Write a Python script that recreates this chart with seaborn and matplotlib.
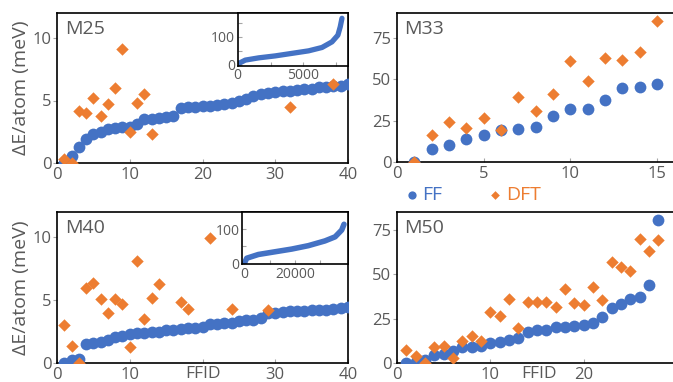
import numpy as np
import pandas as pd
import matplotlib
matplotlib.use("Agg")
import matplotlib.pyplot as plt
import seaborn as sns

# ---------------- data ----------------
m25_ffid = list(range(1, 41))
m25_ff = [0.0, 0.6, 1.3, 1.95, 2.3, 2.5, 2.7, 2.8, 2.85, 2.9,
          3.1, 3.5, 3.55, 3.6, 3.65, 3.8, 4.4, 4.5, 4.5, 4.55,
          4.6, 4.65, 4.7, 4.8, 5.0, 5.15, 5.35, 5.5, 5.6, 5.7,
          5.75, 5.8, 5.85, 5.9, 5.95, 6.05, 6.1, 6.15, 6.2, 6.3]
m25_dft_id = [1, 2, 3, 4, 5, 6, 7, 8, 9, 10, 11, 12, 13, 32, 38]
m25_dft = [0.3, 0.0, 4.2, 4.0, 5.2, 3.8, 4.7, 6.0, 9.1, 2.5, 4.8, 5.5, 2.3, 4.5, 6.3]

m33_ffid = list(range(1, 16))
m33_ff = [0.0, 8.0, 10.5, 13.8, 16.4, 19.4, 19.8, 21.0, 27.9, 31.9, 32.3, 37.5, 44.9, 45.5, 46.9]
m33_dft_id = list(range(1, 16))
m33_dft = [0.0, 16.4, 24.4, 20.4, 26.5, 19.4, 39.1, 31.1, 40.9, 60.9, 48.9, 62.9, 61.9, 66.5, 85.2]

m40_ffid = list(range(1, 41))
m40_ff = [0.0, 0.2, 0.35, 1.5, 1.6, 1.7, 1.8, 2.05, 2.15, 2.3,
          2.4, 2.4, 2.45, 2.5, 2.6, 2.65, 2.7, 2.75, 2.8, 2.9,
          3.1, 3.1, 3.15, 3.2, 3.3, 3.4, 3.45, 3.55, 3.95, 4.0,
          4.05, 4.1, 4.1, 4.15, 4.2, 4.25, 4.25, 4.3, 4.35, 4.45]
m40_dft_id = [1, 2, 3, 4, 5, 6, 7, 8, 9, 10, 11, 12, 13, 14, 17, 18, 21, 24, 29]
m40_dft = [3.05, 1.35, 0.0, 6.0, 6.35, 5.1, 4.0, 5.1, 4.65, 1.25, 8.07, 3.5, 5.15, 6.3,
           4.85, 4.3, 9.97, 4.3, 4.25]

m50_ffid = list(range(1, 29))
m50_ff = [0.0, 0.5, 1.7, 4.5, 5.1, 6.6, 8.8, 9.2, 9.8, 11.1,
          12.0, 13.0, 14.1, 17.3, 18.6, 18.6, 20.1, 20.5, 21.0, 21.4,
          22.6, 26.1, 31.0, 33.3, 36.1, 37.4, 44.0, 80.3]
m50_dft_id = list(range(1, 29))
m50_dft = [7.5, 3.8, 0.0, 8.8, 9.8, 2.8, 12.6, 15.0, 12.2, 28.9,
           26.3, 36.1, 19.5, 34.2, 34.6, 34.2, 31.8, 41.7, 33.8, 32.7,
           42.7, 35.2, 56.8, 53.9, 51.7, 69.9, 62.8, 69.4]

# insets: sorted FF energies of all candidates
ins25_rank = [0, 75, 580, 1600, 2860, 4130, 5400, 6420, 7180, 7630, 7810, 7940]
ins25_val = [0, 5, 17, 25, 32, 41, 50, 62, 82, 106, 136, 166]
ins40_rank = [0, 950, 5520, 12100, 18700, 25250, 31800, 35800, 38400, 39300]
ins40_val = [0, 15, 26, 34, 42, 52, 66, 78, 98, 115]

# ---------------- style ----------------
BLUE = "#4472C4"
ORANGE = "#ED7D31"
GRAY = "#595959"
TICKC = "#A6A6A6"

sns.set_theme(style="white")
plt.rcParams["font.family"] = ["Open Sans", "DejaVu Sans"]

W, H = 673, 382
fig = plt.figure(figsize=(W / 100, H / 100), dpi=100)
fig.patch.set_facecolor("white")


def box(l, t, r, b):
    return [l / W, 1 - b / H, (r - l) / W, (b - t) / H]


def style_main(ax):
    for s in ax.spines.values():
        s.set_color("black")
        s.set_linewidth(1.2)
    ax.tick_params(axis="x", direction="in", length=3, width=0.8, color=TICKC,
                   labelsize=12, labelcolor=GRAY, pad=3, bottom=True)
    ax.tick_params(axis="y", direction="out", length=3, width=0.8, color=TICKC,
                   labelsize=12, labelcolor=GRAY, pad=1, left=True)
    ax.set_xlabel("")
    ax.set_ylabel("")


def style_inset(ax):
    ax.set_facecolor("white")
    for s in ax.spines.values():
        s.set_color("black")
        s.set_linewidth(1.2)
    ax.tick_params(axis="both", direction="in", length=3, width=0.8, color=TICKC,
                   labelsize=10, labelcolor=GRAY, pad=2, bottom=True, left=True)
    ax.set_xlabel("")
    ax.set_ylabel("")


def panel(ax, ffid, ff, dft_id, dft, name):
    sns.scatterplot(x=ffid, y=ff, ax=ax, color=BLUE, marker="o", s=72,
                    linewidth=0, label="FF", zorder=3)
    sns.scatterplot(x=dft_id, y=dft, ax=ax, color=ORANGE, marker="D", s=40,
                    linewidth=0, label="DFT", zorder=4)
    leg = ax.get_legend()
    if leg is not None:
        leg.remove()
    style_main(ax)
    ax.text(0.027, 0.955, name, transform=ax.transAxes, ha="left", va="top",
            fontsize=14, color=GRAY)


ax25 = fig.add_axes(box(57, 13, 348, 163))
ax33 = fig.add_axes(box(397, 13, 676, 162))
ax40 = fig.add_axes(box(57, 212, 348, 363))
ax50 = fig.add_axes(box(397, 212, 677, 363))

panel(ax25, m25_ffid, m25_ff, m25_dft_id, m25_dft, "M25")
panel(ax33, m33_ffid, m33_ff, m33_dft_id, m33_dft, "M33")
panel(ax40, m40_ffid, m40_ff, m40_dft_id, m40_dft, "M40")
panel(ax50, m50_ffid, m50_ff, m50_dft_id, m50_dft, "M50")

ax25.set_xlim(0, 40); ax25.set_ylim(0, 12)
ax25.set_xticks([0, 10, 20, 30, 40]); ax25.set_yticks([0, 5, 10])
ax40.set_xlim(0, 40); ax40.set_ylim(0, 12)
ax40.set_xticks([0, 10, 20, 30, 40]); ax40.set_xticklabels(["0", "10", "", "30", "40"])
ax40.set_yticks([0, 5, 10])
ax33.set_xlim(0, 16.1); ax33.set_ylim(0, 90)
ax33.set_xticks([0, 5, 10, 15]); ax33.set_yticks([0, 25, 50, 75])
ax50.set_xlim(0, 30); ax50.set_ylim(0, 85)
ax50.set_xticks([0, 10, 20]); ax50.set_yticks([0, 25, 50, 75])

for ax in (ax25, ax40):
    ax.set_ylabel("\u0394E/atom (meV)", fontsize=14, color=GRAY)
    ax.yaxis.set_label_coords(-0.093, 0.5)

ax40.text(20, -0.075, "FFID", transform=ax40.get_xaxis_transform(), ha="center",
          va="center", fontsize=12.5, color=GRAY)
ax50.text(15.25, -0.075, "FFID", transform=ax50.get_xaxis_transform(), ha="center",
          va="center", fontsize=12.5, color=GRAY)

# insets
in25 = fig.add_axes(box(237.7, 13, 348, 65.7))
sns.lineplot(x=ins25_rank, y=ins25_val, ax=in25, color=BLUE, linewidth=3.8,
             sort=False, solid_capstyle="round")
in25.set_xlim(0, 8400); in25.set_ylim(-3, 185)
in25.set_xticks([0, 2500, 5000, 7500]); in25.set_xticklabels(["0", "", "5000", ""])
in25.set_yticks([0, 50, 100, 150]); in25.set_yticklabels(["0", "", "100", ""])
style_inset(in25)

in40 = fig.add_axes(box(242.3, 211.7, 348.3, 264))
sns.lineplot(x=ins40_rank, y=ins40_val, ax=in40, color=BLUE, linewidth=4.0,
             sort=False, solid_capstyle="round")
in40.set_xlim(-800, 41000); in40.set_ylim(-2, 152)
in40.set_xticks([0, 10000, 20000, 30000]); in40.set_xticklabels(["0", "", "20000", ""])
in40.set_yticks([0, 50, 100]); in40.set_yticklabels(["0", "", "100"])
style_inset(in40)

# shared legend
handles, labels = ax33.get_legend_handles_labels()
leg = fig.legend(handles, labels, loc="center left",
                 bbox_to_anchor=(404 / W, 1 - 195 / H), ncol=2, frameon=False,
                 fontsize=14, handletextpad=0.15, columnspacing=2.3,
                 handlelength=0.8, markerscale=0.7, borderpad=0, borderaxespad=0)
for t, c in zip(leg.get_texts(), [BLUE, ORANGE]):
    t.set_color(c)

fig.savefig("out.png", dpi=100, facecolor="white")
